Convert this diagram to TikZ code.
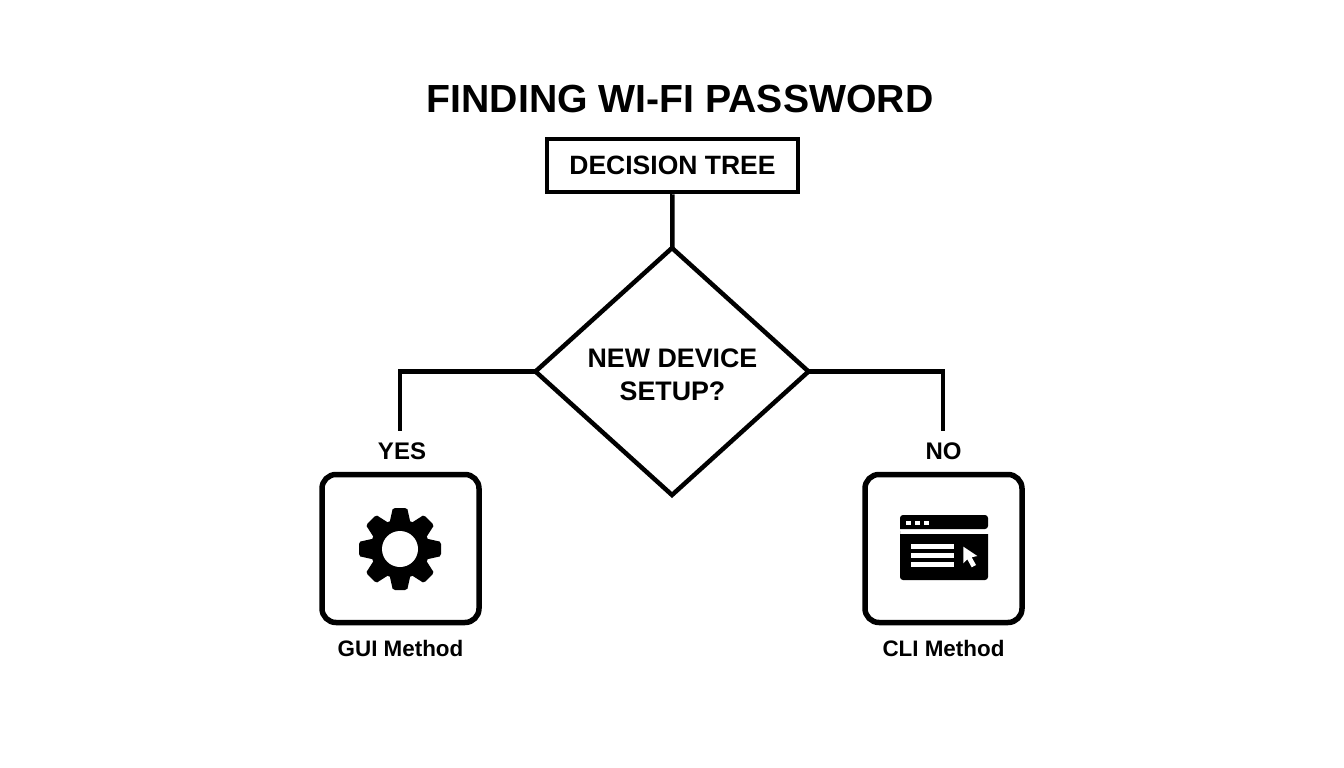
\documentclass[tikz,border=0pt]{standalone}
\usepackage{fontspec}
\setmainfont{Liberation Sans}
\usetikzlibrary{shapes.geometric}
\begin{document}
\begin{tikzpicture}
    [
    x=1pt, y=-1pt,
    heading/.style={font=\fontsize{39.2}{39.2}\selectfont\bfseries, inner sep=0pt},
    tree/.style={rectangle,draw,line width=4.5pt,minimum width=251pt,minimum height=53pt,inner sep=0pt,font=\fontsize{26.5}{26.5}\selectfont\bfseries},
    question/.style={diamond,draw,line width=4.5pt,inner sep=0pt,outer sep=0pt,minimum width=273pt,minimum height=247pt,aspect=1.1},
    asking/.style={inner sep=0pt,align=center,font=\fontsize{26.8}{33}\selectfont\bfseries},
    branch/.style={inner sep=0pt,font=\fontsize{24}{24}\selectfont\bfseries},
    method/.style={rectangle,draw,line width=5.5pt,rounded corners=14pt,minimum width=157pt,minimum height=148pt,inner sep=0pt},
    caption/.style={inner sep=0pt,font=\fontsize{22.4}{22.4}\selectfont\bfseries},
    wire/.style={draw,line width=4.5pt}
    ]
    \useasboundingbox (0,0) rectangle (1344,768);
    \node (title) at (680,99) [heading] {FINDING WI-FI PASSWORD};
    \node (tree) at (672.5,165.5) [tree] {DECISION TREE};
    \node (setup) at (672,371.5) [question] {};
    \node (setuptext) at (672.5,374.5) [asking] {NEW DEVICE\\SETUP?};
    \node (yes) at (402,451) [branch] {YES};
    \node (no) at (943.5,451) [branch] {NO};
    \node (gui) at (400.5,548.5) [method] {};
    \node (cli) at (943.5,548.5) [method] {};
    \node (guilabel) at (400.5,648.5) [caption] {GUI Method};
    \node (clilabel) at (943.5,648.5) [caption] {CLI Method};
    \coordinate (yesend) at (400,431);
    \coordinate (noend) at (943,431);
    \draw [wire] (tree) to (setup);
    \draw [wire] (setup.west) -| (yesend);
    \draw [wire] (setup.east) -| (noend);
    % gear
    \fill (400,549) circle (29.5pt);
    \foreach \a in {0,45,...,315} {
      \fill [shift={(400,549)}, rotate=\a]
        (-10.5,-26) -- (-7.5,-39.5) [rounded corners=1.5pt] -- (-6.5,-41) -- (6.5,-41) [sharp corners] -- (7.5,-39.5) -- (10.5,-26) -- cycle;
    }
    \fill [white] (400,549) circle (18pt);
    % window
    \fill (900,529) [rounded corners=3pt] -- (900,515) -- (988,515) -- (988,529) [sharp corners] -- cycle;
    \fill (900,534) -- (988,534) [rounded corners=3pt] -- (988,580) -- (900,580) -- (900,534) [sharp corners] -- cycle;
    \foreach \x in {906,915,924} {
      \fill [white] (\x,520.5) rectangle +(5,4.5);
    }
    \foreach \y in {544,553,562} {
      \fill [white] (911,\y) rectangle (954,\y+5);
    }
    \fill [white] (963.3,546.7) -- (963.3,563.3) -- (967.3,559.3) -- (971.7,567.3)
      -- (976,565) -- (971.7,557.3) -- (977.3,556) -- cycle;
\end{tikzpicture}
\end{document}
